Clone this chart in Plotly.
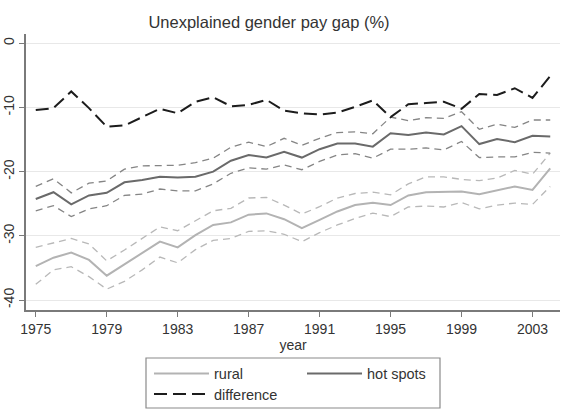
import plotly.graph_objects as go

years = list(range(1975, 2005))

difference = [-10.4, -10.1, -7.5, -10.1, -13.0, -12.8, -11.5, -10.2, -10.9, -9.1,
              -8.4, -9.8, -9.6, -8.8, -10.5, -10.9, -11.1, -10.8, -9.9, -8.9,
              -11.5, -9.5, -9.3, -9.1, -10.2, -7.9, -8.05, -7.0, -8.5, -5.1]

hot_spots = [-24.25, -23.2, -25.1, -23.7, -23.3, -21.65, -21.3, -20.8, -20.9, -20.8,
             -20.0, -18.3, -17.4, -17.8, -16.9, -17.8, -16.5, -15.6, -15.6, -16.1,
             -14.0, -14.3, -13.9, -14.2, -12.9, -15.7, -14.9, -15.4, -14.4, -14.5]

hot_upper = [-22.3, -21.1, -23.3, -21.8, -21.45, -19.6, -19.1, -19.1, -19.0, -18.6,
             -17.9, -16.2, -15.4, -16.1, -14.8, -15.9, -14.8, -13.9, -13.8, -14.1,
             -11.5, -12.05, -11.6, -11.7, -10.65, -13.4, -12.6, -13.1, -11.95, -11.95]

hot_lower = [-26.1, -25.3, -27.0, -25.8, -25.3, -23.7, -23.5, -22.7, -23.0, -23.0,
             -21.9, -20.25, -19.4, -19.6, -18.95, -19.7, -18.4, -17.4, -17.2, -17.9,
             -16.5, -16.5, -16.3, -16.6, -15.3, -17.8, -17.7, -17.7, -17.0, -17.1]

rural = [-34.7, -33.4, -32.6, -33.75, -36.2, -34.4, -32.7, -30.9, -31.8, -29.9,
         -28.3, -27.9, -26.7, -26.5, -27.4, -28.8, -27.5, -26.2, -25.2, -24.85,
         -25.2, -23.7, -23.2, -23.2, -23.1, -23.5, -22.95, -22.3, -22.85, -19.5]

rural_upper = [-31.8, -31.05, -30.4, -31.25, -33.9, -32.2, -30.4, -28.6, -29.2, -27.7,
               -26.1, -25.7, -24.1, -24.0, -25.2, -26.6, -25.45, -24.1, -23.4, -23.2,
               -23.6, -21.9, -20.8, -20.8, -21.2, -21.4, -21.0, -19.8, -20.4, -17.1]

rural_lower = [-37.55, -35.3, -34.8, -36.35, -38.3, -37.1, -35.3, -33.3, -34.2, -32.15,
               -30.7, -30.4, -29.3, -29.2, -29.75, -30.9, -29.5, -28.3, -27.3, -26.45,
               -27.0, -25.5, -25.35, -25.5, -24.8, -25.8, -25.2, -24.9, -25.1, -22.3]

x_ticks = [1975, 1979, 1983, 1987, 1991, 1995, 1999, 2003]
y_ticks = [0, -10, -20, -30, -40]

C_DIFF = "#1c1c1c"
C_HOT = "#6a6a6a"
C_HOT_CI = "#858585"
C_RUR = "#b3b3b3"
C_RUR_CI = "#b8b8b8"

fig = go.Figure()

# confidence bands (dashed, no legend)
fig.add_trace(go.Scatter(x=years, y=rural_upper, mode="lines", showlegend=False,
                         line=dict(color=C_RUR_CI, width=1.3, dash="7px,5px")))
fig.add_trace(go.Scatter(x=years, y=rural_lower, mode="lines", showlegend=False,
                         line=dict(color=C_RUR_CI, width=1.3, dash="7px,5px")))
fig.add_trace(go.Scatter(x=years, y=hot_upper, mode="lines", showlegend=False,
                         line=dict(color=C_HOT_CI, width=1.3, dash="7px,5px")))
fig.add_trace(go.Scatter(x=years, y=hot_lower, mode="lines", showlegend=False,
                         line=dict(color=C_HOT_CI, width=1.3, dash="7px,5px")))

fig.add_trace(go.Scatter(x=years, y=rural, mode="lines", name="rural",
                         line=dict(color=C_RUR, width=2), legend="legend"))
fig.add_trace(go.Scatter(x=years, y=hot_spots, mode="lines", name="hot spots",
                         line=dict(color=C_HOT, width=2), legend="legend2"))
fig.add_trace(go.Scatter(x=years, y=difference, mode="lines", name="difference",
                         line=dict(color=C_DIFF, width=2, dash="13px,6px"), legend="legend3"))

W, H = 568, 414
L, R, T, B = 26, 8, 34, 104
pw, ph = W - L - R, H - T - B

def px_x(p):
    return (p - L) / pw

def px_y(p):
    return (H - B - p) / ph

font = "Liberation Sans, Arial, Helvetica, sans-serif"
TXT = "#333333"

def leg(xp, yp):
    return dict(orientation="v", x=px_x(xp), y=px_y(yp), xanchor="left", yanchor="middle",
                bgcolor="rgba(0,0,0,0)", borderwidth=0, itemwidth=55,
                font=dict(family=font, size=14.5, color=TXT))

fig.update_layout(
    width=W, height=H,
    margin=dict(l=L, r=R, t=T, b=B, autoexpand=False),
    paper_bgcolor="white", plot_bgcolor="white",
    font=dict(family=font, size=14, color=TXT),
    title=dict(text="Unexplained gender pay gap (%)", x=269 / W, xanchor="center",
               y=1 - 22 / H, yanchor="middle",
               font=dict(family=font, size=16.5, color=TXT)),
    xaxis=dict(range=[1974.45, 2004.55], tickvals=x_ticks, ticktext=[str(v) for v in x_ticks],
               showgrid=False, zeroline=False, showline=True, linecolor="#7a7a7a", linewidth=1.5,
               ticks="outside", ticklen=5, tickwidth=1.2, tickcolor="#7a7a7a",
               tickfont=dict(size=14, color=TXT),
               title=dict(text="year", standoff=1, font=dict(size=14, color=TXT))),
    yaxis=dict(range=[-41.55, 1.45], tickvals=y_ticks, ticktext=[str(v) for v in y_ticks],
               showgrid=True, gridcolor="#e8e8e8", gridwidth=1.2, zeroline=False,
               showline=True, linecolor="#7a7a7a", linewidth=1.5,
               ticks="outside", ticklen=5, tickwidth=1.2, tickcolor="#7a7a7a",
               tickangle=-90, tickfont=dict(size=14, color=TXT)),
    legend=leg(149, 373.5),
    legend2=leg(302, 373.5),
    legend3=leg(149, 394),
    shapes=[dict(type="rect", xref="paper", yref="paper",
                 x0=px_x(146), x1=px_x(440), y0=px_y(408), y1=px_y(358),
                 line=dict(color="#8a8a8a", width=1.2), fillcolor="rgba(0,0,0,0)", layer="below")],
)

fig.write_html("out.html")
